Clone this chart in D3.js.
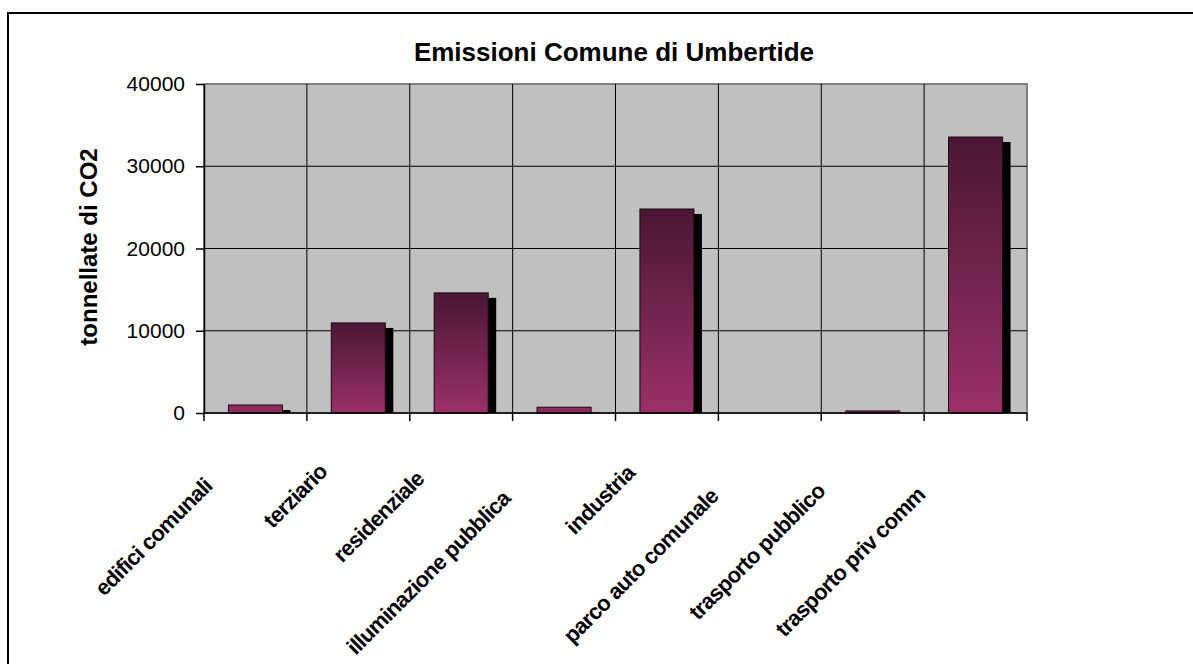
<!DOCTYPE html>
<html>
<head>
<meta charset="utf-8">
<script src="https://cdn.jsdelivr.net/npm/d3@7"></script>
<style>
  body { margin: 0; background: #fff; }
  svg { display: block; font-family: Arial, "Liberation Sans", sans-serif; }
</style>
</head>
<body>
<div class="chart"></div>
<script>
// values (tonnes of CO2)
const categories = ["edifici comunali", "terziario", "residenziale", "illuminazione pubblica",
                    "industria", "parco auto comunale", "trasporto pubblico", "trasporto priv comm"];
const emissions = [970, 10950, 14600, 700, 24800, 0, 250, 33550];
const yTicks = [0, 10000, 20000, 30000, 40000];
const chartTitle = "Emissioni Comune di Umbertide";
const yTitle = "tonnellate di CO2";

const WIDTH = 1193, HEIGHT = 664;
const plotL = 204, plotR = 1027, plotT = 84, plotB = 413;

const svg = d3.select(".chart").append("svg")
  .attr("width", WIDTH).attr("height", HEIGHT);

// bar gradient, dark on top, pink at the bottom
const grad = svg.append("defs").append("linearGradient")
  .attr("id", "barGrad").attr("x1", 0).attr("y1", 0).attr("x2", 0).attr("y2", 1);
grad.append("stop").attr("offset", "0%").attr("stop-color", "#4a1733");
grad.append("stop").attr("offset", "100%").attr("stop-color", "#9b3167");

// outer chart frame (goes off the page right and bottom)
svg.append("rect")
  .attr("x", 8).attr("y", 13).attr("width", 1200).attr("height", 700)
  .attr("fill", "#fff").attr("stroke", "#000").attr("stroke-width", 2);

const x = d3.scaleBand().domain(categories).range([plotL, plotR])
  .paddingInner(0.475).paddingOuter(0.2375);
const xCell = d3.scaleBand().domain(categories).range([plotL, plotR]).padding(0);
const y = d3.scaleLinear().domain([0, 40000]).range([plotB, plotT]);

// plot area
svg.append("rect")
  .attr("x", plotL).attr("y", plotT).attr("width", plotR - plotL).attr("height", plotB - plotT)
  .attr("fill", "#c0c0c0").attr("stroke", "#808080").attr("stroke-width", 2);

// horizontal gridlines
svg.selectAll(".hgrid")
  .data(yTicks.filter(d => d > 0 && d < 40000))
  .enter().append("line")
  .attr("x1", plotL).attr("x2", plotR)
  .attr("y1", d => y(d)).attr("y2", d => y(d))
  .attr("stroke", "#000").attr("stroke-width", 1);

// vertical lines between categories
svg.selectAll(".vgrid")
  .data(categories.slice(1))
  .enter().append("line")
  .attr("x1", d => xCell(d)).attr("x2", d => xCell(d))
  .attr("y1", plotT).attr("y2", plotB)
  .attr("stroke", "#000").attr("stroke-width", 1);

const data = categories.map((c, i) => ({ cat: c, val: emissions[i] })).filter(d => d.val > 0);

// shadows
svg.selectAll(".shadow")
  .data(data)
  .enter().append("rect")
  .attr("x", d => x(d.cat) + 8)
  .attr("y", d => Math.min(y(d.val) + 5, plotB))
  .attr("width", x.bandwidth())
  .attr("height", d => Math.max(plotB - y(d.val) - 5, 0))
  .attr("fill", "#000");

// bars (very short ones just show the light end of the gradient)
svg.selectAll(".bar")
  .data(data)
  .enter().append("rect")
  .attr("x", d => x(d.cat))
  .attr("y", d => y(d.val))
  .attr("width", x.bandwidth())
  .attr("height", d => plotB - y(d.val))
  .attr("fill", d => plotB - y(d.val) < 20 ? "#8e2c5e" : "url(#barGrad)")
  .attr("stroke", "#1a0610").attr("stroke-width", 1);

// y axis
const yAxis = svg.append("g")
  .attr("transform", `translate(${plotL},0)`)
  .call(d3.axisLeft(y).tickValues(yTicks).tickFormat(d3.format("d"))
    .tickSize(8).tickSizeOuter(0).tickPadding(11));
yAxis.selectAll("text").attr("font-size", 21).attr("fill", "#000")
  .attr("font-family", "Arial, 'Liberation Sans', sans-serif");
yAxis.selectAll("line, path").attr("stroke", "#000").attr("stroke-width", 1.5);

// x axis line and ticks at category borders
svg.append("line")
  .attr("x1", plotL).attr("x2", plotR).attr("y1", plotB).attr("y2", plotB)
  .attr("stroke", "#000").attr("stroke-width", 1.5);
svg.selectAll(".xtick")
  .data(categories.concat(["end"]))
  .enter().append("line")
  .attr("x1", (d, i) => i < categories.length ? xCell(d) : plotR)
  .attr("x2", (d, i) => i < categories.length ? xCell(d) : plotR)
  .attr("y1", plotB).attr("y2", plotB + 8)
  .attr("stroke", "#000").attr("stroke-width", 1.5);

// rotated category labels
const labels = svg.selectAll(".xlab")
  .data(categories)
  .enter().append("text")
  .attr("font-size", 22).attr("font-weight", "bold")
  .attr("letter-spacing", -0.7)
  .attr("text-anchor", "end")
  .text(d => d);
labels.each(function(d) {
  const L = this.getComputedTextLength();
  const cx = x(d) + x.bandwidth() / 2;
  const ex = cx - 17 - 0.16 * L;
  const ey = 458 + 0.19 * L;
  d3.select(this).attr("transform", `translate(${ex},${ey}) rotate(-45)`);
});

// title
svg.append("text")
  .attr("x", 614).attr("y", 61)
  .attr("text-anchor", "middle")
  .attr("font-size", 26).attr("font-weight", "bold")
  .text(chartTitle);

// y axis title
svg.append("text")
  .attr("transform", `translate(97,247) rotate(-90)`)
  .attr("text-anchor", "middle")
  .attr("font-size", 24).attr("font-weight", "bold")
  .text(yTitle);
</script>
</body>
</html>
